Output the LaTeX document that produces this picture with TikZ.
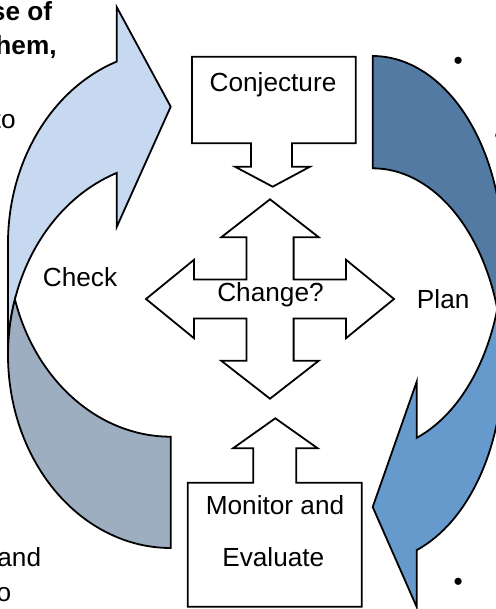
\documentclass[tikz,border=0pt]{standalone}
\usepackage{fontspec}
\setmainfont{Liberation Sans}
\definecolor{lightblue}{RGB}{198,217,241}
\definecolor{greyblue}{RGB}{158,174,193}
\definecolor{darkblue}{RGB}{82,122,163}
\definecolor{midblue}{RGB}{102,153,204}

\begin{document}
\begin{tikzpicture}[x=0.5pt, y=-0.5pt,
        outline/.style={draw=black, line width=0.9pt, line join=miter},
        label/.style={font=\fontsize{13.1}{16}\selectfont, anchor=base, inner sep=0pt},
        side/.style={font=\fontsize{13.1}{16}\selectfont, anchor=base east, inner sep=0pt}]
        \useasboundingbox (0,0) rectangle (496,609);
        \clip (0,0) rectangle (496,609);

        % 左边的弧形箭头 (Check)
        \filldraw [outline, fill=lightblue] (8,355)
            arc [start angle=180, end angle=250.62, x radius=162.7, y radius=193]
            -- (116.7,227) -- (170.7,106.7) -- (116.7,7) -- (116.7,61.6)
            arc [start angle=250.62, end angle=180, x radius=162.7, y radius=193]
            -- cycle;
        \filldraw [outline, fill=greyblue] (170.7,436.7)
            arc [start angle=90, end angle=163.24, x radius=162.7, y radius=193]
            arc [start angle=196.76, end angle=90, x radius=162.7, y radius=193]
            -- cycle;

        % 右边的弧形箭头 (Plan)
        \filldraw [outline, fill=midblue] (502.7,252.7)
            arc [start angle=0, end angle=70.22, x radius=130, y radius=196.7]
            -- (416.7,381.7) -- (372.7,507) -- (416.7,607) -- (416.7,550.1)
            arc [start angle=70.22, end angle=0, x radius=130, y radius=196.7]
            -- cycle;
        \filldraw [outline, fill=darkblue] (372.7,168.3)
            arc [start angle=-90, end angle=-16.585, x radius=130, y radius=196.7]
            arc [start angle=16.585, end angle=-90, x radius=130, y radius=196.7]
            -- cycle;

        % 上面的方框
        \filldraw [outline, fill=white] (192,56.7) -- (355.7,56.7) -- (355.7,143.3)
            -- (292,143.3) -- (292,166.7) -- (310,166.7) -- (272.7,186.7)
            -- (235,166.7) -- (251,166.7) -- (251,143.3) -- (192,143.3) -- cycle;

        % 下面的方框
        \filldraw [outline, fill=white] (187.7,606.7) -- (187.7,482.7) -- (253.3,482.7)
            -- (253.3,448.3) -- (233,448.3) -- (275.3,418.3) -- (317.7,448.3)
            -- (296.3,448.3) -- (296.3,482.7) -- (361.7,482.7) -- (361.7,606.7) -- cycle;

        % 中间的十字箭头
        \filldraw [outline, fill=white] (270,199.3) -- (318.8,237.3) -- (293.6,237.3)
            -- (293.6,279.5) -- (346,279.5) -- (346,259.8) -- (394,299)
            -- (346,338.2) -- (346,318.5) -- (293.6,318.5) -- (293.6,360.7)
            -- (318.8,360.7) -- (270,398.7) -- (221.2,360.7) -- (246.4,360.7)
            -- (246.4,318.5) -- (194,318.5) -- (194,338.2) -- (146,299)
            -- (194,259.8) -- (194,279.5) -- (246.4,279.5) -- (246.4,237.3)
            -- (221.2,237.3) -- cycle;

        % 标注文字
        \node [label] (conj) at (273,91.7) {Conjecture};
        \node [label] (chg) at (270.5,301.7) {Change?};
        \node [label] (chk) at (80,286) {Check};
        \node [label] (pln) at (443.2,308.3) {Plan};
        \node [label] (mon) at (275,514.3) {Monitor and};
        \node [label] (eva) at (273.3,566.7) {Evaluate};

        % 两边被截断的正文
        \node [side, font=\fontsize{13.1}{16}\selectfont\bfseries] (t_1) at (52.5,20.7) {se of};
        \node [side, font=\fontsize{13.1}{16}\selectfont\bfseries] (t_2) at (57,55) {hem,};
        \node [side] (t_3) at (16,128.3) {to};
        \node [side] (t_4) at (41.5,566.7) {and};
        \node [side] (t_5) at (11.5,601.7) {o};
        \node [label] (b_1) at (458.3,70) {•};
        \node [label] (b_2) at (499,144.4) {•};
        \node [label] (b_3) at (458.3,590.7) {•};
\end{tikzpicture}
\end{document}
